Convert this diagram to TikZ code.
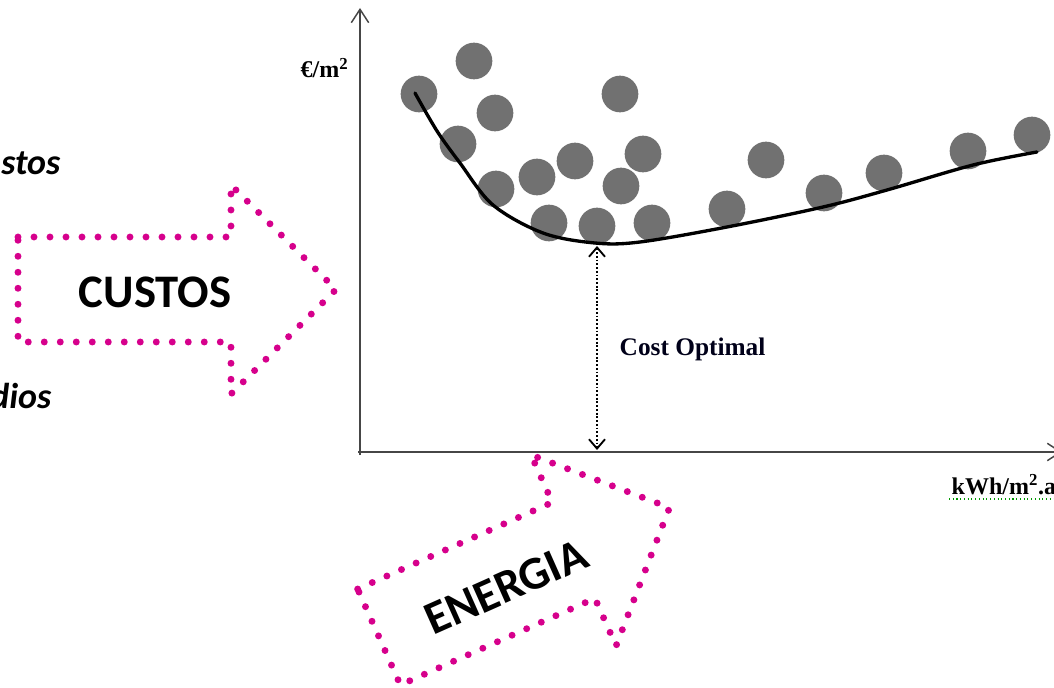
\documentclass[tikz,border=0pt]{standalone}
\usepackage{fontspec}
\setmainfont{Liberation Serif}
\newfontfamily\calib{Carlito}
\usetikzlibrary{arrows.meta}
\definecolor{mag}{RGB}{214,0,140}
\definecolor{dotgray}{RGB}{113,113,113}
\definecolor{axisgray}{RGB}{70,70,70}
\begin{document}
\begin{tikzpicture}[x=0.75pt,y=-0.75pt,
  sample/.style={circle,fill=dotgray,inner sep=0pt,minimum size=27.5pt},
  arrowpath/.style={draw=mag,line width=5.2pt,line cap=round,dash pattern=on 0pt off 12pt},
  axisline/.style={draw=axisgray,line width=1.1pt},
  bigtext/.style={font=\calib\bfseries\fontsize{35}{35}\selectfont},
  sidetext/.style={font=\calib\bfseries\itshape\fontsize{27}{27}\selectfont,anchor=base east},
  chartlabel/.style={font=\bfseries\fontsize{18}{18}\selectfont,text=black},
  bigarrow/.pic={\draw[arrowpath] (0,-52.5) -- (213,-52.5) -- (213,-104.5) -- (318,0)
      -- (213,104.5) -- (213,52.5) -- (0,52.5) -- cycle;}]
\useasboundingbox (0,0) rectangle (1054,688);
\clip (0,0) rectangle (1054,688);
\fill[white] (0,0) rectangle (1054,688);

% side texts
\node[sidetext] (stos) at (65,175) {stos};
\node[sidetext] (dios) at (56,408) {dios};

% axes
\coordinate (O) at (360,455);
\coordinate (ytop) at (360,8);
\coordinate (xstart) at (358,452);
\coordinate (xend) at (1062,452);
\draw[axisline,-{Straight Barb[length=10pt,width=13pt]}] (O) -- (ytop);
\draw[axisline,-{Straight Barb[length=10pt,width=13pt]}] (xstart) -- (xend);

% axis labels
\node[chartlabel,anchor=base west] (ylab) at (296,78) {€/m\textsuperscript{2}};
\node[chartlabel,anchor=base west] (xlab) at (947,494) {kWh/m\textsuperscript{2}.a};
\coordinate (ul1) at (949,499);
\coordinate (ul2) at (1054,499);
\draw[green!60!black,line width=0.8pt,dotted] (ul1) -- (ul2);

% sample points
\foreach \x/\y [count=\i] in {419/94,474/61,495/113,458/144,496/189,537/177,575/161,
  549/223,597/226,621/186,643/154,620/94,652/223,727/209,766/160,824/193,884/173,968/151,1032/135}
  \node[sample] (p\i) at (\x,\y) {};

% cost curve
\draw[line width=2.5pt,line cap=round] plot[smooth,tension=0.55] coordinates
  {(415,93) (437,131) (460,163) (493,205) (543,233) (595,243) (640,242) (727,227)
   (823,207) (887,190) (973,165) (1037,152)};

% cost optimal
\coordinate (c1) at (597,246);
\coordinate (c2) at (597,450);
\draw[line width=1.4pt,dash pattern=on 1.4pt off 1.4pt,
  {Straight Barb[length=7pt,width=12pt]}-{Straight Barb[length=7pt,width=12pt]}] (c1) -- (c2);
\node[font=\bfseries\fontsize{19}{19}\selectfont,anchor=west,text=black!90!blue] (cost) at (615,349) {Cost Optimal};

% big dotted arrows
\pic at (18,289.5) {bigarrow};
\node[bigtext] (custos) at (155,292) {CUSTOS};
\pic[rotate=24] at (379,637) {bigarrow};
\node[bigtext,rotate=24] (energia) at (506,587) {ENERGIA};
\end{tikzpicture}
\end{document}
